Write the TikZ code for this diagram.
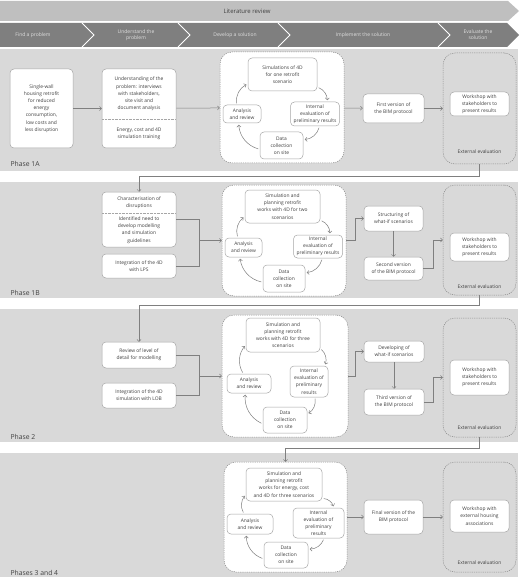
\documentclass[tikz,border=0pt]{standalone}
\usepackage{fontspec}
\setmainfont{Open Sans}
\usetikzlibrary{arrows.meta}

\definecolor{panelgrey}{HTML}{D9D9D9}
\definecolor{bannergrey}{HTML}{BFBFBF}
\definecolor{stepgrey}{HTML}{7F7F7F}
\definecolor{inkgrey}{HTML}{404040}
\definecolor{edgegrey}{HTML}{A6A6A6}
\definecolor{holdgrey}{HTML}{8C8C8C}

\begin{document}
\begin{tikzpicture}[x=1pt,y=-1pt,
  font=\fontsize{4.9}{7.2}\selectfont, text=inkgrey,
  wh/.style 2 args={minimum width=#1, minimum height=#2},
  box/.style={draw=edgegrey, fill=white, rounded corners=4pt, align=center, inner sep=0pt, line width=0.5pt},
  txt/.style={align=center, inner sep=0pt},
  holder/.style={draw=holdgrey, dash pattern=on 1.2pt off 1pt, rounded corners=12pt, line width=0.5pt},
  workspace/.style={holder, fill=white},
  link/.style={draw=stepgrey, line width=0.5pt},
  arr/.style={link, -{Straight Barb[length=2pt,width=4pt]}},
  roundarr/.style={arr, bend left=35, shorten <=1.5pt, shorten >=1.5pt},
  phase/.style={anchor=base west, font=\fontsize{6.8}{8}\selectfont},
  evalnote/.style={font=\fontsize{4.9}{6}\selectfont},
  steplabel/.style={txt, text=white!88!black, font=\fontsize{5}{6.2}\selectfont}
]
\useasboundingbox (0,0) rectangle (520,580);

% banner and steps
\fill[bannergrey] (0,1) -- (508,1) -- (519,11) -- (508,21) -- (0,21) -- cycle;
\node[font=\fontsize{6}{7}\selectfont] (litrev) at (247,11) {Literature review};
\fill[stepgrey] (0,23) -- (507,23) -- (519,35) -- (507,47) -- (0,47) -- cycle;
\draw[white, line width=0.8pt] (82,23) -- (94,35) -- (82,47);
\draw[white, line width=0.8pt] (178,23) -- (190,35) -- (178,47);
\draw[white, line width=0.8pt] (278,23) -- (290,35) -- (278,47);
\draw[white, line width=0.8pt] (438,23) -- (450,35) -- (438,47);
\node[steplabel] (find) at (33,35) {Find a problem};
\node[steplabel] (understand) at (136,35) {Understand the\\problem};
\node[steplabel] (develop) at (235,35) {Develop a solution};
\node[steplabel] (implement) at (363,35) {Implement the solution};
\node[steplabel] (evaluate) at (478,35) {Evaluate the\\solution};

% phase panels
\fill[panelgrey] (0,49) rectangle (518,171);
\fill[panelgrey] (0,182) rectangle (518,298);
\fill[panelgrey] (0,309) rectangle (518,442);
\fill[panelgrey] (0,453) rectangle (518,577);
\node[phase] (p1a) at (7,167) {Phase 1A};
\node[phase] (p1b) at (7,295.5) {Phase 1B};
\node[phase] (p2) at (7,439.5) {Phase 2};
\node[phase] (p34) at (7,575) {Phases 3 and 4};

% Phase 1A
\node[box, wh={63}{79}] (sw) at (41.5,108.5) {Single-wall\\housing retrofit\\for reduced\\energy\\consumption,\\low costs and\\less disruption};
\node[box, wh={74}{79}] (und) at (139,108.5) {};
\node[txt] (undtop) at (139,94) {Understanding of the\\problem: interviews\\with stakeholders,\\site visit and\\document analysis};
\draw[edgegrey, densely dotted] (102,119) -- (176,119);
\node[txt] (undbot) at (139,133.5) {Energy, cost and 4D\\simulation training};
\node[workspace, wh={124}{111}] (cont1) at (282,107.5) {};
\node[box, wh={69}{33}] (sim1) at (282.5,74.5) {Simulations of 4D\\for one retrofit\\scenario};
\node[box, wh={38}{18}] (ana1) at (242,114) {Analysis\\and review};
\node[box, wh={49}{24}] (int1) at (315,114) {Internal\\evaluation of\\preliminary results};
\node[box, wh={43}{27}] (dat1) at (281.5,145.5) {Data\\collection\\on site};
\node[box, wh={61}{29}] (fv1) at (393.5,108.5) {First version of\\the BIM protocol};
\node[holder, wh={73}{111}] (ext1) at (479.5,108.5) {};
\node[box, wh={59}{24}] (ws1) at (479.5,104) {Workshop with\\stakeholders to\\present results};
\node[evalnote] (ev1) at (479.5,152) {External evaluation};
\draw[arr] (sw) -- (und);
\draw[arr] (und) -- (cont1);
\draw[arr] (cont1) -- (fv1);
\draw[arr] (fv1) -- (ext1);
\draw[roundarr] (ana1.120) to (sim1.195);
\draw[roundarr] (sim1.340) to (int1.45);
\draw[roundarr] (int1.-70) to (dat1.15);
\draw[roundarr] (dat1.190) to (ana1.-110);

% Phase 1B
\node[box, wh={74}{55}] (char) at (139,219.5) {};
\node[txt] (chartop) at (139,202.5) {Characterisation of\\disruptions};
\draw[edgegrey, densely dotted] (102,213) -- (176,213);
\node[txt] (charbot) at (139,230) {Identified need to\\develop modelling\\and simulation\\guidelines};
\node[box, wh={74}{24}] (lps) at (139,266) {Integration of the 4D\\with LPS};
\coordinate (join2) at (199,240.5);
\node[workspace, wh={124}{111}] (cont2) at (284,240.5) {};
\node[box, wh={75}{33}] (sim2) at (282.5,206.5) {Simulation and\\planning retrofit\\works with 4D for two\\scenarios};
\node[box, wh={37}{19}] (ana2) at (243.5,247.5) {Analysis\\and review};
\node[box, wh={49}{23}] (int2) at (318,246.5) {Internal\\evaluation of\\preliminary results};
\node[box, wh={42}{27}] (dat2) at (284,278.5) {Data\\collection\\on site};
\node[box, wh={59}{25}] (str2) at (393.5,218.5) {Structuring of\\what-if scenarios};
\node[box, wh={59}{23}] (sv2) at (393.5,268.5) {Second version\\of the BIM protocol};
\node[holder, wh={73}{110}] (ext2) at (479.5,240) {};
\node[box, wh={59}{28}] (ws2) at (479.5,247) {Workshop with\\stakeholders to\\present results};
\node[evalnote] (ev2) at (479.5,287) {External evaluation};
\draw[arr] (ext1.south) -- ++(0,12) -| (char.north);
\draw[link] (char.east) -| (join2);
\draw[link] (lps.east) -| (join2);
\draw[arr] (join2) -- (cont2.west);
\draw[arr] (cont2.east) -- ++(9,0) |- (str2.west);
\draw[arr] (str2) -- (sv2);
\draw[arr] (sv2.east) -- ++(10,0) |- (ext2.west);
\draw[roundarr] (ana2.120) to (sim2.195);
\draw[roundarr] (sim2.340) to (int2.45);
\draw[roundarr] (int2.-70) to (dat2.15);
\draw[roundarr] (dat2.190) to (ana2.-110);

% Phase 2
\node[box, wh={74}{26}] (rev3) at (139,355) {Review of level of\\detail for modelling};
\node[box, wh={74}{25}] (lob3) at (139,395.5) {Integration of the 4D\\simulation with LOB};
\coordinate (join3) at (199,376);
\node[workspace, wh={126}{122}] (cont3) at (285,376) {};
\node[box, wh={74}{34}] (sim3) at (283,335) {Simulation and\\planning retrofit\\works with 4D for three\\scenarios};
\node[box, wh={44}{19}] (ana3) at (249,383.5) {Analysis\\and review};
\node[box, wh={38}{31}] (int3) at (309,381.5) {Internal\\evaluation of\\preliminary\\results};
\node[box, wh={44}{26}] (dat3) at (285,420) {Data\\collection\\on site};
\node[box, wh={60}{21}] (dev3) at (394,351.5) {Developing of\\what-if scenarios};
\node[box, wh={60}{26}] (tv3) at (394,402) {Third version of\\the BIM protocol};
\node[holder, wh={73}{119}] (ext3) at (479.5,377.5) {};
\node[box, wh={59}{35}] (ws3) at (479.5,377.5) {Workshop with\\stakeholders to\\present results};
\node[evalnote] (ev3) at (479.5,428) {External evaluation};
\draw[arr] (ext2.south) -- ++(0,10) -| (rev3.north);
\draw[link] (rev3.east) -| (join3);
\draw[link] (lob3.east) -| (join3);
\draw[arr] (join3) -- (cont3.west);
\draw[arr] (cont3.east) -- ++(7,0) |- (dev3.west);
\draw[arr] (dev3) -- (tv3);
\draw[arr] (tv3.east) -- ++(9,0) |- (ext3.west);
\draw[roundarr] (ana3.120) to (sim3.195);
\draw[roundarr] (sim3.340) to (int3.45);
\draw[roundarr] (int3.-70) to (dat3.15);
\draw[roundarr] (dat3.190) to (ana3.-110);

% Phases 3 and 4
\node[workspace, wh={123}{110}] (cont4) at (285.5,517) {};
\node[box, wh={76}{33}] (sim4) at (284,484.5) {Simulation and\\planning retrofit\\works for energy, cost\\and 4D for three scenarios};
\node[box, wh={46}{20}] (ana4) at (250,524) {Analysis\\and review};
\node[box, wh={51}{30}] (int4) at (318.5,523) {Internal\\evaluation of\\preliminary\\results};
\node[box, wh={44}{26}] (dat4) at (286,555) {Data\\collection\\on site};
\node[box, wh={59}{34}] (fin4) at (393.5,517) {Final version of the\\BIM protocol};
\node[holder, wh={73}{110}] (ext4) at (479.5,517) {};
\node[box, wh={59}{32}] (ws4) at (479.5,516) {Workshop with\\external housing\\associations};
\node[evalnote] (ev4) at (479.5,563) {External evaluation};
\draw[arr] (ext3.south) -- ++(0,11) -| (cont4.north);
\draw[arr] (cont4) -- (fin4);
\draw[arr] (fin4) -- (ext4);
\draw[roundarr] (ana4.120) to (sim4.195);
\draw[roundarr] (sim4.340) to (int4.45);
\draw[roundarr] (int4.-70) to (dat4.15);
\draw[roundarr] (dat4.190) to (ana4.-110);
\end{tikzpicture}
\end{document}
